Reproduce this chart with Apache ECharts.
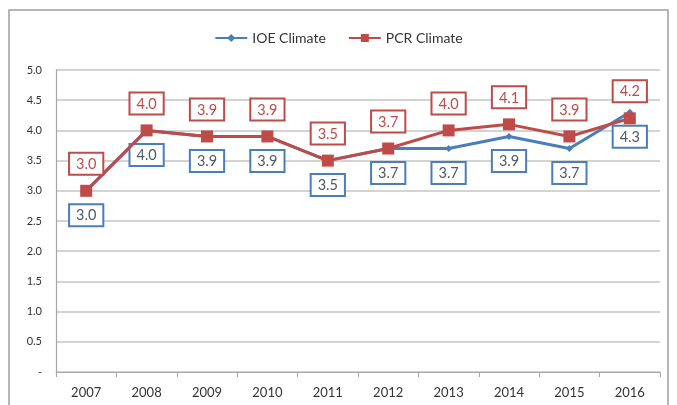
<!DOCTYPE html>
<html>
<head>
<meta charset="utf-8">
<script src="https://cdn.jsdelivr.net/npm/echarts@6/dist/echarts.min.js"></script>
<style>
  html, body { margin: 0; padding: 0; background: #fff; }
  #chart { width: 677px; height: 405px; }
</style>
</head>
<body>
<div id="chart"></div>
<script>
// Years along the x axis
const years = ['2007', '2008', '2009', '2010', '2011', '2012', '2013', '2014', '2015', '2016'];
// Climate scores per year
const ioeClimate = [3.0, 4.0, 3.9, 3.9, 3.5, 3.7, 3.7, 3.9, 3.7, 4.3];
const pcrClimate = [3.0, 4.0, 3.9, 3.9, 3.5, 3.7, 4.0, 4.1, 3.9, 4.2];
// Y axis tick labels, from 0 up to 5.0 in steps of 0.5
const yTickLabels = ['-', '0.5', '1.0', '1.5', '2.0', '2.5', '3.0', '3.5', '4.0', '4.5', '5.0'];

const BLUE = '#4A7EBB';
const RED = '#BE4B48';
const FONT = 'Lato, "Open Sans", sans-serif';

const chart = echarts.init(document.getElementById('chart'), null, { renderer: 'canvas' });

function boxLabel(color, textColor, position) {
  return {
    show: true,
    position: position,
    distance: 11,
    formatter: p => p.value.toFixed(1),
    backgroundColor: '#fff',
    borderColor: color,
    borderWidth: 2,
    padding: [3, 6, 2, 6],
    color: textColor,
    fontFamily: FONT,
    fontSize: 14.5
  };
}

chart.setOption({
  animation: false,
  backgroundColor: '#fff',
  graphic: [{
    type: 'rect',
    shape: { x: 9, y: 10, width: 659, height: 420 },
    style: { fill: 'none', stroke: '#A0A0A0', lineWidth: 1.5 },
    silent: true,
    z: -1
  }],
  legend: {
    top: 26,
    left: 'center',
    itemWidth: 32,
    itemHeight: 10,
    itemGap: 22,
    textStyle: { fontFamily: FONT, fontSize: 14, color: '#333' },
    data: ['IOE Climate', 'PCR Climate']
  },
  grid: { left: 56, right: 17, top: 70, bottom: 33 },
  xAxis: {
    type: 'category',
    data: years,
    boundaryGap: true,
    axisLine: { lineStyle: { color: '#A6A6A6', width: 1.2 } },
    axisTick: { show: true, length: 5, lineStyle: { color: '#A6A6A6' } },
    axisLabel: { fontFamily: FONT, fontSize: 13, color: '#333', margin: 14 }
  },
  yAxis: {
    type: 'value',
    min: 0,
    max: 5,
    interval: 0.5,
    axisLine: { show: true, lineStyle: { color: '#A6A6A6', width: 1.2 } },
    axisTick: { show: false },
    splitLine: { lineStyle: { color: '#C4C4C4', width: 1.5 } },
    axisLabel: {
      fontFamily: FONT,
      fontSize: 11,
      color: '#333',
      margin: 14,
      formatter: (v) => yTickLabels[Math.round(v / 0.5)]
    }
  },
  series: [
    {
      name: 'IOE Climate',
      type: 'line',
      data: ioeClimate,
      symbol: 'diamond',
      symbolSize: 7,
      lineStyle: { color: BLUE, width: 3 },
      itemStyle: { color: BLUE },
      label: boxLabel(BLUE, '#4D5A6A', 'bottom'),
      z: 2
    },
    {
      name: 'PCR Climate',
      type: 'line',
      data: pcrClimate,
      symbol: 'rect',
      symbolSize: 12,
      lineStyle: { color: RED, width: 3 },
      itemStyle: { color: RED },
      label: boxLabel(RED, RED, 'top'),
      z: 3
    }
  ]
});
</script>
</body>
</html>
